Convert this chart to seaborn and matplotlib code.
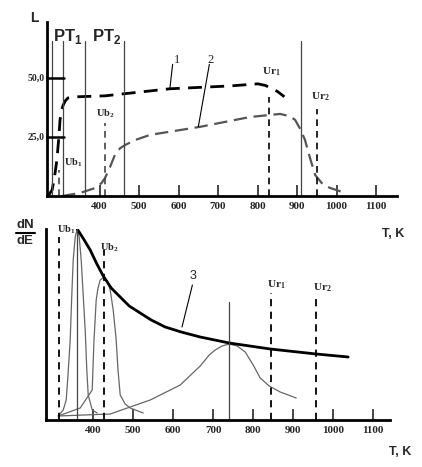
import matplotlib
matplotlib.use("Agg")
import matplotlib.pyplot as plt
import seaborn as sns
import pandas as pd

sns.set_style("white")
plt.rcParams['font.family'] = ['Liberation Serif', 'DejaVu Sans']
plt.rcParams['mathtext.fontset'] = 'custom'
plt.rcParams['mathtext.bf'] = 'Liberation Serif:bold'
plt.rcParams['mathtext.sf'] = 'Liberation Sans:bold'

# ---- top panel data ----
c1_T = [270, 280, 286, 292, 297, 300, 304, 308, 314, 320, 343, 414, 578, 730, 801, 820, 832, 850, 868]
c1_L = [0, 2.6, 8.0, 15.3, 25.0, 32.4, 36.5, 38.7, 40.6, 41.7, 42.2, 42.6, 45.6, 46.8, 47.7, 47.0, 46.0, 44.5, 42.2]
c2_T = [305, 351, 389, 405, 414, 427, 439, 452, 465, 490, 528, 654, 781, 857, 880, 895, 908, 920, 933, 946, 965, 984, 1022]
c2_L = [0, 1.3, 3.4, 5.5, 7.7, 12.5, 17.5, 20.3, 21.7, 23.8, 26.0, 29.4, 33.6, 34.9, 34.0, 32.4, 28.5, 23.9, 16.0, 8.9, 5.0, 3.4, 1.3]
top_solid_T = [280, 308, 363, 462, 910]
top_dashed = {"Ub1": (297, 11), "Ub2": (414, 31), "Ur1": (829, 42), "Ur2": (951, 37)}
ticks = [400, 500, 600, 700, 800, 900, 1000, 1100]

# ---- bottom panel data ----
c3_T = [360, 376, 392.5, 408, 425, 445, 467.5, 490, 517.5, 545, 580, 620, 667.5, 740, 842.5, 957.5, 1037.5]
c3_Y = [191, 181, 170, 157, 144, 132, 123, 114, 107, 100, 93, 88, 83, 77, 71, 66, 63]
p1_T = [312.5, 325, 332.5, 337, 342.5, 346, 350, 355, 360, 365, 370, 375, 380, 384, 387.5, 397.5, 410]
p1_Y = [4, 10, 20, 45, 80, 120, 160, 183, 191, 183, 160, 125, 90, 50, 25, 10, 7]
p2_T = [312.5, 367.5, 397.5, 402, 407.5, 412, 417.5, 427.5, 437, 442.5, 450, 457.5, 462, 467.5, 480, 492.5, 525]
p2_Y = [4, 12, 30, 80, 120, 132, 140, 143, 138, 130, 110, 80, 50, 25, 16, 12, 7]
p3_T = [312.5, 442.5, 542.5, 617.5, 667.5, 690, 705, 722, 740, 760, 780, 800, 817.5, 840, 867.5, 907.5]
p3_Y = [4, 6, 20, 35, 54, 65, 70, 74, 76, 74, 68, 55, 42, 34, 28, 22]
bot_solid = {360: 191, 740: 118}
bot_dashed = {"Ub1": (315, 183), "Ub2": (427.5, 170), "Ur1": (845, 127), "Ur2": (957.5, 123)}

fig = plt.figure(figsize=(4.22, 4.67), dpi=100)
ax1 = fig.add_axes([47/422, 1-196/467, 350/422, 174/467])
ax2 = fig.add_axes([46/422, 1-420/467, 344/422, 191/467])

def style(ax):
    for s in ["top", "right"]:
        ax.spines[s].set_visible(False)
    for s in ["left", "bottom"]:
        ax.spines[s].set_linewidth(2)
        ax.spines[s].set_color("black")
    ax.set_yticks([])
    ax.set_xticks(ticks)
    ax.set_xticklabels([str(t) for t in ticks], fontweight="bold", fontsize=8)
    ax.tick_params(axis="x", direction="in", length=8, width=1.2, pad=4, bottom=True)

def lab(base, sub, sans=False):
    if sans:
        return r"$\mathsf{%s}_{\mathsf{%s}}$" % (base, sub)
    return r"$\mathbf{%s}_{\mathbf{%s}}$" % (base, sub)

# top
ax1.set_xlim(267, 1153)
ax1.set_ylim(0, 74)
style(ax1)
sns.lineplot(x=c1_T, y=c1_L, ax=ax1, color="black", lw=2, linestyle=(0, (5, 3)))
sns.lineplot(x=c2_T, y=c2_L, ax=ax1, color="#555555", lw=1.6, linestyle=(0, (6, 3)))
for t in top_solid_T:
    ax1.plot([t, t], [0, 66], color="#444444", lw=0.9)
for name, (t, h) in top_dashed.items():
    col = "black" if name.startswith("Ur") else "#444444"
    ax1.plot([t, t], [0, h], color=col, lw=1.2, ls=(0, (4, 3)))
for yv in [25, 50]:
    ax1.plot([267, 310], [yv, yv], color="black", lw=1.8, clip_on=False)
ax1.text(260, 50, "50,0", ha="right", va="center", fontsize=7, fontweight="bold")
ax1.text(260, 25, "25,0", ha="right", va="center", fontsize=7, fontweight="bold")
ax1.text(283, 68, lab("PT", "1", True), fontsize=12, va="center")
ax1.text(380, 68, lab("PT", "2", True), fontsize=12, va="center")
ax1.text(310, 13, lab("Ub", "1"), fontsize=7.5)
ax1.text(390, 34, lab("Ub", "2"), fontsize=7.5)
ax1.text(810, 52, lab("Ur", "1"), fontsize=8)
ax1.text(935, 41, lab("Ur", "2"), fontsize=8)
ax1.text(588, 56.5, "1", fontsize=9)
ax1.text(672, 56.5, "2", fontsize=9)
ax1.plot([585, 578], [56, 45.6], color="black", lw=0.8)
ax1.plot([678, 650], [56, 29.4], color="black", lw=0.8)
fig.text(30/422, 1-18/467, "L", fontsize=10, fontweight="bold", family="Liberation Sans", va="center")

# bottom
ax2.set_xlim(282, 1142)
ax2.set_ylim(0, 191)
style(ax2)
for T, Y in [(p1_T, p1_Y), (p2_T, p2_Y), (p3_T, p3_Y)]:
    sns.lineplot(x=T, y=Y, ax=ax2, color="#666666", lw=0.9, sort=False)
sns.lineplot(x=c3_T, y=c3_Y, ax=ax2, color="black", lw=2)
for t, h in bot_solid.items():
    ax2.plot([t, t], [0, h], color="#444444", lw=0.9)
for name, (t, h) in bot_dashed.items():
    ax2.plot([t, t], [0, h], color="black", lw=1.3, ls=(0, (4, 3)))
ax2.text(310, 188, lab("Ub", "1"), fontsize=7.5)
ax2.text(418, 170, lab("Ub", "2"), fontsize=7.5)
ax2.text(835, 133, lab("Ur", "1"), fontsize=8)
ax2.text(950, 130, lab("Ur", "2"), fontsize=8)
ax2.text(642, 141, "3", fontsize=9, family="Liberation Sans")
ax2.plot([648, 622], [135, 93], color="black", lw=0.8)
fig.text(25/422, 1-225/467, "dN", fontsize=9.5, fontweight="bold", family="Liberation Sans", ha="center", va="center")
fig.text(25/422, 1-241/467, "dE", fontsize=9.5, fontweight="bold", family="Liberation Sans", ha="center", va="center")
fig.add_artist(plt.Line2D([16/422, 35/422], [1-233/467, 1-233/467], color="black", lw=1.5))
fig.text(393/422, 1-234/467, "T, K", fontsize=9, fontweight="bold", family="Liberation Sans", ha="center", va="center")
fig.text(400/422, 1-452/467, "T, K", fontsize=9, fontweight="bold", family="Liberation Sans", ha="center", va="center")

fig.savefig("out.png", dpi=100, facecolor="white")
